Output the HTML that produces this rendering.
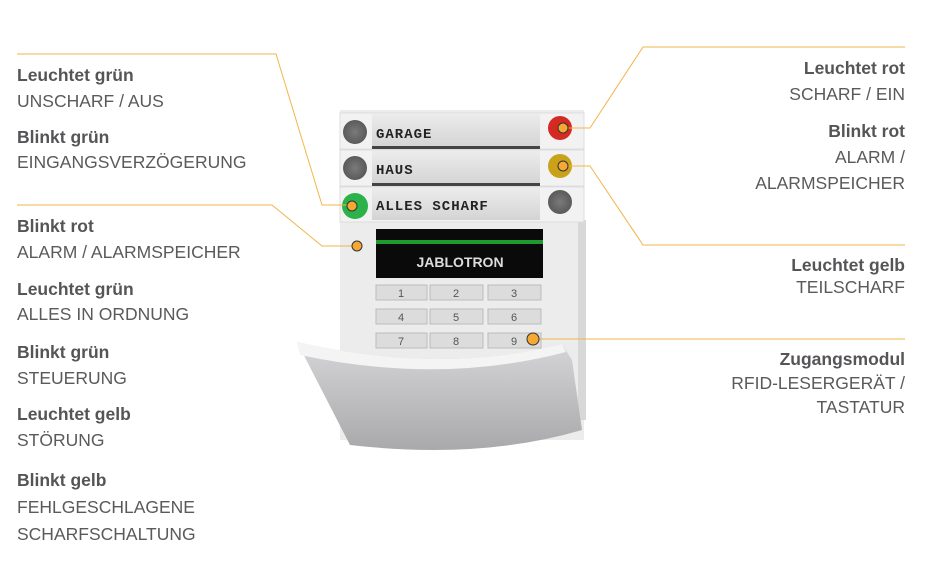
<!DOCTYPE html>
<html><head><meta charset="utf-8"><style>
html,body{margin:0;padding:0;background:#fff;width:931px;height:583px;overflow:hidden}
svg{display:block}
.b{font:bold 17.5px "Liberation Sans",sans-serif;fill:#555558}
.n{font:17.5px "Liberation Sans",sans-serif;fill:#5a5a5c}
.k{font:11px "Liberation Sans",sans-serif;fill:#555}
.lb{font:bold 14px "Liberation Mono",monospace;fill:#222;letter-spacing:1px}
</style></head><body>
<svg width="931" height="583" viewBox="0 0 931 583">
<defs>
<linearGradient id="flap" x1="0" y1="0" x2="0" y2="1"><stop offset="0" stop-color="#d6d6d8"/><stop offset="1" stop-color="#a9a9ab"/></linearGradient>
<linearGradient id="seg" x1="0" y1="0" x2="0" y2="1"><stop offset="0" stop-color="#ececec"/><stop offset="1" stop-color="#d4d4d4"/></linearGradient>
<radialGradient id="gry"><stop offset="0" stop-color="#7a7a7a"/><stop offset="1" stop-color="#5a5a5a"/></radialGradient>
</defs>
<rect x="340" y="110" width="244" height="330" fill="#ececec"/>
<rect x="578" y="220" width="8" height="200" fill="#d8d8d8"/>
<g>
<rect x="340" y="113" width="244" height="36" fill="#f2f2f2" stroke="#ddd"/>
<rect x="340" y="150" width="244" height="36" fill="#f2f2f2" stroke="#ddd"/>
<rect x="340" y="187" width="244" height="35" fill="#f2f2f2" stroke="#ddd"/>
<rect x="372" y="114" width="168" height="33" fill="url(#seg)"/>
<rect x="372" y="151" width="168" height="33" fill="url(#seg)"/>
<rect x="372" y="188" width="168" height="32" fill="url(#seg)"/>
<rect x="372" y="146" width="168" height="3" fill="#444"/>
<rect x="372" y="183" width="168" height="3" fill="#444"/>
<circle cx="355" cy="132" r="12" fill="url(#gry)"/>
<circle cx="355" cy="168" r="12" fill="url(#gry)"/>
<circle cx="355" cy="206" r="13" fill="#2bb24a"/>
<circle cx="560" cy="128" r="12" fill="#d42a22"/>
<circle cx="560" cy="166" r="12" fill="#c9a21a"/>
<circle cx="560" cy="202" r="12" fill="url(#gry)"/>
<text class="lb" x="376" y="138">GARAGE</text>
<text class="lb" x="376" y="174">HAUS</text>
<text class="lb" x="376" y="210">ALLES SCHARF</text>
</g>
<rect x="376" y="229" width="167" height="49" fill="#0a0a0a"/>
<rect x="376" y="240" width="167" height="4" fill="#1f9a2e"/>
<text x="460" y="267" text-anchor="middle" style="font:bold 14px 'Liberation Sans',sans-serif;fill:#ddd">JABLOTRON</text>
<g fill="#dcdcdc" stroke="#bbb">
<rect x="376" y="285" width="51" height="15"/><rect x="430" y="285" width="53" height="15"/><rect x="488" y="285" width="53" height="15"/>
<rect x="376" y="309" width="51" height="15"/><rect x="430" y="309" width="53" height="15"/><rect x="488" y="309" width="53" height="15"/>
<rect x="376" y="333" width="51" height="15"/><rect x="430" y="333" width="53" height="15"/><rect x="488" y="333" width="53" height="15"/>
</g>
<g class="k" text-anchor="middle">
<text x="401" y="297">1</text><text x="456" y="297">2</text><text x="514" y="297">3</text>
<text x="401" y="321">4</text><text x="456" y="321">5</text><text x="514" y="321">6</text>
<text x="401" y="345">7</text><text x="456" y="345">8</text><text x="514" y="345">9</text>
</g>
<path d="M297 342 Q440 375 562 344 L572 360 L582 430 Q480 460 350 445 Z" fill="url(#flap)"/>
<path d="M297 342 Q440 375 562 344 L566 352 Q440 385 300 355 Z" fill="#f4f4f4"/>
<g fill="none" stroke="#f2b54a" stroke-width="1">
<polyline points="17,54 276,54 322,205 353,205"/>
<polyline points="17,205 272,205 322,246 357,246"/>
<polyline points="905,47 643,47 590,128 563,128"/>
<polyline points="563,166 590,166 643,245 905,245"/>
<polyline points="533,339 905,339"/>
</g>
<g fill="#f5a833" stroke="#333" stroke-width="1">
<circle cx="352" cy="206" r="5"/><circle cx="357" cy="246" r="5"/>
<circle cx="563" cy="128" r="5"/><circle cx="563" cy="166" r="5"/>
<circle cx="533" cy="339" r="6"/>
</g>
<text class="b" x="17" y="81">Leuchtet grün</text>
<text class="n" x="17" y="107">UNSCHARF / AUS</text>
<text class="b" x="17" y="143">Blinkt grün</text>
<text class="n" x="17" y="168">EINGANGSVERZÖGERUNG</text>
<text class="b" x="17" y="232">Blinkt rot</text>
<text class="n" x="17" y="258">ALARM / ALARMSPEICHER</text>
<text class="b" x="17" y="295">Leuchtet grün</text>
<text class="n" x="17" y="320">ALLES IN ORDNUNG</text>
<text class="b" x="17" y="358">Blinkt grün</text>
<text class="n" x="17" y="384">STEUERUNG</text>
<text class="b" x="17" y="420">Leuchtet gelb</text>
<text class="n" x="17" y="446">STÖRUNG</text>
<text class="b" x="17" y="486">Blinkt gelb</text>
<text class="n" x="17" y="513">FEHLGESCHLAGENE</text>
<text class="n" x="17" y="540">SCHARFSCHALTUNG</text>
<g text-anchor="end">
<text class="b" x="905" y="74">Leuchtet rot</text>
<text class="n" x="905" y="100">SCHARF / EIN</text>
<text class="b" x="905" y="137">Blinkt rot</text>
<text class="n" x="905" y="163">ALARM /</text>
<text class="n" x="905" y="189">ALARMSPEICHER</text>
<text class="b" x="905" y="271">Leuchtet gelb</text>
<text class="n" x="905" y="293">TEILSCHARF</text>
<text class="b" x="905" y="365">Zugangsmodul</text>
<text class="n" x="905" y="389">RFID-LESERGERÄT /</text>
<text class="n" x="905" y="413">TASTATUR</text>
</g>
</svg>
</body></html>
